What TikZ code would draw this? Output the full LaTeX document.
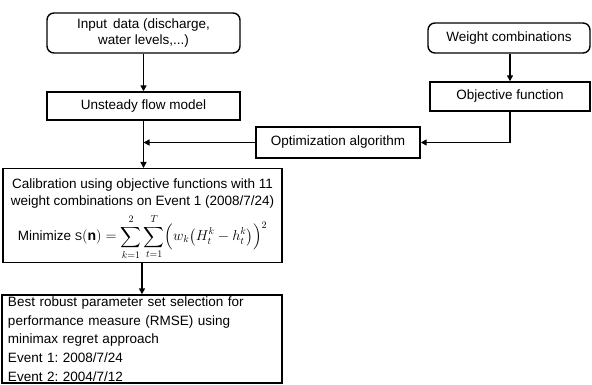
\documentclass[tikz,border=0pt]{standalone}
\usepackage{exscale}
\usepackage{fontspec}
\setmainfont{Liberation Sans}
\usetikzlibrary{arrows.meta}
\frenchspacing
\begin{document}
\begin{tikzpicture}[x=1pt,y=-1pt,
  box/.style={draw,line width=1.4pt,inner sep=0pt,font=\fontsize{13.5}{18}\selectfont},
  rbox/.style={box,rounded corners=7pt},
  arr/.style={line width=1.4pt,-{Triangle[length=6pt,width=6pt]}},
  ln/.style={line width=1.4pt}]
\useasboundingbox (0,0) rectangle (592,385);
\node[rbox,minimum width=193pt,minimum height=40pt,align=center,font=\fontsize{13.5}{16.5}\selectfont] (inp) at (143.5,33) {Input\, data (discharge,\\water levels,...)};
\node[box,minimum width=193pt,minimum height=28pt] (uns) at (143.5,106) {Unsteady flow model};
\node[rbox,minimum width=162pt,minimum height=30pt] (wc) at (509,38) {Weight combinations};
\node[box,minimum width=160pt,minimum height=29pt] (obj) at (510,96.5) {Objective function};
\node[box,minimum width=164pt,minimum height=31pt] (opt) at (338,142.5) {Optimization algorithm};
\node[box,minimum width=279pt,minimum height=89pt,align=center,anchor=north,inner xsep=3pt,inner ysep=3pt,font=\fontsize{13.5}{17}\selectfont] (cal) at (142.5,168)
 {\rule{0pt}{17pt}Calibration using objective functions with 11\\weight combinations on Event 1 (2008/7/24)\\[5pt]
  Minimize {\fontsize{11}{12}\selectfont S}{\fontsize{14}{17}\selectfont$(\mathbf{n}) = \displaystyle\sum_{k=1}^{2}\sum_{t=1}^{T}\Bigl(w_k\bigl(H_t^k - h_t^k\bigr)\Bigr)^2$}};
\node[box,minimum width=280pt,minimum height=88pt,text width=268pt,align=left,font=\fontsize{13.5}{18.6}\selectfont] (best) at (142,339)
 {Best robust parameter set selection for\\performance measure (RMSE) using\\minimax regret approach\\Event 1: 2008/7/24\\Event 2: 2004/7/12};
\coordinate (j) at (uns.south |- opt.west);
\draw[arr] (inp) -- (uns);
\draw[arr] (wc.south -| obj.south) -- (obj);
\draw[arr] (obj.south) |- (opt.east);
\draw[arr] (opt.west) -- (j);
\draw[arr] (uns.south) -- (uns.south |- cal.north);
\draw[arr] (cal.south -| best.north) -- (best.north);
\end{tikzpicture}
\end{document}
